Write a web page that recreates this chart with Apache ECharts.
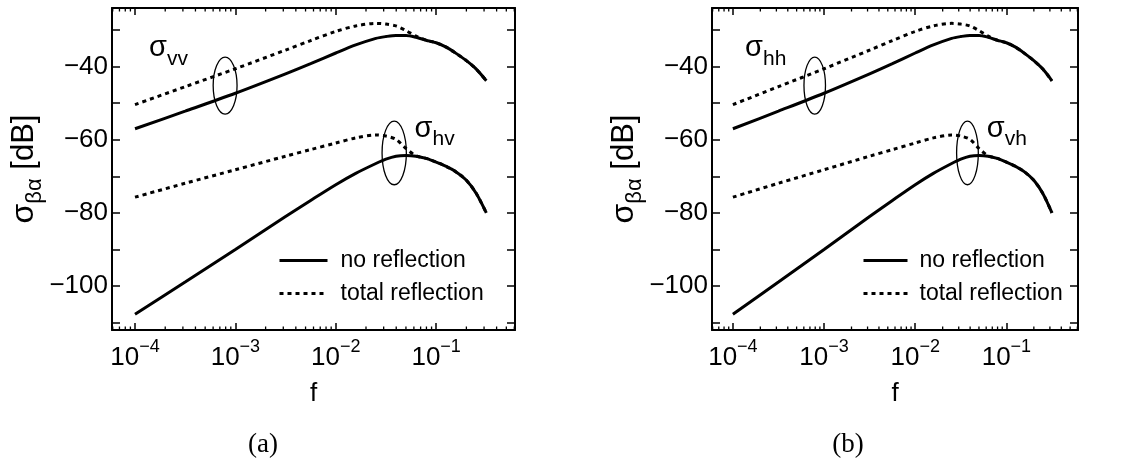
<!DOCTYPE html>
<html>
<head>
<meta charset="utf-8">
<script src="https://cdn.jsdelivr.net/npm/echarts@6/dist/echarts.min.js"></script>
<style>
  html, body { margin: 0; padding: 0; background: #fff; }
  #chart { width: 1136px; height: 464px; }
</style>
</head>
<body>
<div id="chart"></div>
<script>
// frequency samples (f)
const FREQ = [1e-4, 3.16e-4, 1e-3, 3.16e-3, 5.62e-3, 1e-2, 1.58e-2, 2.51e-2, 3.16e-2, 3.98e-2,
  5.01e-2, 6.31e-2, 7.94e-2, 0.1, 0.126, 0.158, 0.2, 0.251, 0.316];

// co-polarised (vv / hh) [dB]
const CO_NO_REF = [-57.0, -52.2, -47.3, -42.0, -39.2, -36.3, -34.1, -32.3, -31.8, -31.5,
  -31.5, -32.0, -32.8, -33.5, -34.7, -36.4, -38.4, -40.7, -43.9];
const CO_TOT_REF = [-50.4, -45.5, -40.6, -35.5, -32.9, -30.4, -28.9, -28.2, -28.4, -28.9,
  -30.2, -31.7, -32.8, -33.5, -34.7, -36.4, -38.4, -40.7, -43.9];

// cross-polarised (hv / vh) [dB]
const CROSS_NO_REF = [-107.7, -98.9, -90.0, -81.0, -76.6, -72.3, -69.2, -66.5, -65.3, -64.5,
  -64.3, -64.5, -65.1, -66.1, -67.3, -68.8, -71.1, -74.7, -80.0];
const CROSS_TOT_REF = [-75.7, -71.9, -68.2, -64.5, -62.7, -60.9, -59.5, -58.7, -59.0, -59.9,
  -62.4, -64.4, -65.1, -66.1, -67.3, -68.8, -71.1, -74.7, -80.0];

// minor ticks of the log axis
const X_MINOR = [6e-5, 7e-5, 8e-5, 9e-5,
  2e-4, 3e-4, 4e-4, 5e-4, 6e-4, 7e-4, 8e-4, 9e-4,
  2e-3, 3e-3, 4e-3, 5e-3, 6e-3, 7e-3, 8e-3, 9e-3,
  2e-2, 3e-2, 4e-2, 5e-2, 6e-2, 7e-2, 8e-2, 9e-2,
  2e-1, 3e-1, 4e-1, 5e-1, 6e-1];

const X_MIN = 5.9e-5, X_MAX = 0.61;
const Y_MIN = -112, Y_MAX = -24;

// ellipses: [f centre, dB centre, half width (decades), half height (dB)]
const ELLIPSES_A = [[7.9e-4, -45.2, 0.119, 7.8], [0.0382, -63.6, 0.121, 8.7]];
const ELLIPSES_B = [[7.9e-4, -45.2, 0.118, 7.8], [0.0374, -63.6, 0.119, 8.7]];

// sigma labels: [f, dB (top of text), subscript]
const LABELS_A = [[1.38e-4, -31.0, 'vv'], [0.061, -53.0, 'hv']];
const LABELS_B = [[1.36e-4, -31.0, 'hh'], [0.061, -53.0, 'vh']];

const FONT = 'Liberation Sans';
const MINUS = '\u2212';

const panels = [
  { left: 112, width: 403, ellipses: ELLIPSES_A, labels: LABELS_A, legendLeft: 273, legendW: 48, legendPad: 8, caption: '(a)', capX: 263 },
  { left: 712, width: 366, ellipses: ELLIPSES_B, labels: LABELS_B, legendLeft: 857, legendW: 44, legendPad: 7, caption: '(b)', capX: 848 }
];

function pairs(ys) {
  return FREQ.map((f, i) => [f, ys[i]]);
}

function xLabel(v) {
  const l = Math.log10(v);
  const n = Math.round(l);
  if (Math.abs(l - n) > 1e-6) return '';
  return '{b|10}{e|' + (n < 0 ? MINUS : '') + Math.abs(n) + '}';
}

const grid = [], xAxis = [], yAxis = [], series = [], legend = [], graphic = [];

panels.forEach((p, k) => {
  grid.push({ left: p.left, top: 8, width: p.width, height: 322 });

  const axisLine = { show: true, onZero: false, lineStyle: { color: '#000', width: 2 } };

  // bottom and top x axes
  xAxis.push({
    type: 'log', gridIndex: k, position: 'bottom', min: X_MIN, max: X_MAX, logBase: 10,
    axisLine, splitLine: { show: false },
    axisTick: { inside: true, length: 7, lineStyle: { color: '#000', width: 1.5 } },
    axisLabel: {
      formatter: xLabel, showMinLabel: false, showMaxLabel: false, margin: 8,
      rich: {
        b: { fontSize: 26, lineHeight: 33, fontFamily: FONT, color: '#000', verticalAlign: 'bottom' },
        e: { fontSize: 18, lineHeight: 18, fontFamily: FONT, color: '#000', verticalAlign: 'top' }
      }
    },
    name: 'f', nameLocation: 'middle', nameGap: 51,
    nameTextStyle: { fontSize: 26, fontFamily: FONT, color: '#000' }
  });
  xAxis.push({
    type: 'log', gridIndex: k, position: 'top', min: X_MIN, max: X_MAX, logBase: 10,
    axisLine, splitLine: { show: false },
    axisTick: { inside: true, length: 7, lineStyle: { color: '#000', width: 1.5 } },
    axisLabel: { show: false }
  });

  // left and right y axes
  const yBase = {
    type: 'value', gridIndex: k, min: Y_MIN, max: Y_MAX, splitNumber: 9,
    axisLine, splitLine: { show: false },
    axisTick: { inside: true, length: 8, lineStyle: { color: '#000', width: 1.5 } }
  };
  yAxis.push(Object.assign({}, yBase, {
    position: 'left',
    axisLabel: {
      margin: 4, fontSize: 26, fontFamily: FONT, color: '#000',
      showMinLabel: false, showMaxLabel: false,
      formatter: v => (v % 20 === 0 ? MINUS + Math.abs(v) : '')
    },
    name: '{s|σ}{sub|βα}{t| [dB]}', nameLocation: 'middle', nameRotate: 90, nameGap: 64,
    nameTextStyle: {
      color: '#000',
      rich: {
        s: { fontSize: 32, lineHeight: 31, fontFamily: FONT, color: '#000', verticalAlign: 'top' },
        sub: { fontSize: 22, lineHeight: 37, fontFamily: FONT, color: '#000', verticalAlign: 'bottom' },
        t: { fontSize: 31, lineHeight: 31, fontFamily: FONT, color: '#000', verticalAlign: 'top' }
      }
    }
  }));
  yAxis.push(Object.assign({}, yBase, { position: 'right', axisLabel: { show: false } }));

  const xi = 2 * k, yi = 2 * k;
  const solid = { color: '#000', width: 3, type: 'solid' };
  const dotted = { color: '#000', width: 3, type: [4, 4], cap: 'butt' };
  const line = (name, ys, style) => ({
    type: 'line', name, xAxisIndex: xi, yAxisIndex: yi, data: pairs(ys),
    symbol: 'none', smooth: 0.3, lineStyle: style, itemStyle: { color: '#000' }
  });
  series.push(line('no reflection', CO_NO_REF, solid));
  series.push(line('total reflection', CO_TOT_REF, dotted));
  series.push(line('no reflection', CROSS_NO_REF, solid));
  series.push(line('total reflection', CROSS_TOT_REF, dotted));

  // minor ticks of the log axis, top and bottom
  series.push({
    type: 'custom', name: 'minor', xAxisIndex: xi, yAxisIndex: yi, silent: true,
    data: X_MINOR.map(f => [f, Y_MIN]),
    renderItem: (params, api) => {
      const b = api.coord([api.value(0), Y_MIN]);
      const t = api.coord([api.value(0), Y_MAX]);
      const st = { stroke: '#000', lineWidth: 1.3 };
      return {
        type: 'group', children: [
          { type: 'line', shape: { x1: b[0], y1: b[1], x2: b[0], y2: b[1] - 3.5 }, style: st },
          { type: 'line', shape: { x1: t[0], y1: t[1], x2: t[0], y2: t[1] + 3.5 }, style: st }
        ]
      };
    }
  });

  // ellipses round the curve pairs
  series.push({
    type: 'custom', name: 'ellipse', xAxisIndex: xi, yAxisIndex: yi, silent: true,
    data: p.ellipses,
    renderItem: (params, api) => {
      const e = p.ellipses[params.dataIndex];
      const c = api.coord([e[0], e[1]]);
      const r = api.coord([e[0] * Math.pow(10, e[2]), e[1] + e[3]]);
      return {
        type: 'ellipse',
        shape: { cx: c[0], cy: c[1], rx: r[0] - c[0], ry: c[1] - r[1] },
        style: { fill: 'none', stroke: '#000', lineWidth: 1.3 }
      };
    }
  });

  // sigma labels
  series.push({
    type: 'custom', name: 'sigma', xAxisIndex: xi, yAxisIndex: yi, silent: true,
    data: p.labels.map(l => [l[0], l[1]]),
    renderItem: (params, api) => {
      const l = p.labels[params.dataIndex];
      const c = api.coord([l[0], l[1]]);
      return {
        type: 'text', x: c[0], y: c[1],
        style: {
          text: '{s|σ}{sub|' + l[2] + '}', fill: '#000', align: 'left', verticalAlign: 'top',
          rich: {
            s: { fontSize: 29, lineHeight: 29, fontFamily: FONT, fill: '#000', verticalAlign: 'top' },
            sub: { fontSize: 21, lineHeight: 36, fontFamily: FONT, fill: '#000', verticalAlign: 'bottom' }
          }
        }
      };
    }
  });

  legend.push({
    data: ['no reflection', 'total reflection'],
    orient: 'vertical', left: p.legendLeft, top: 244, itemGap: 10,
    itemWidth: p.legendW, itemHeight: 14, selectedMode: false,
    itemStyle: { opacity: 0 },
    lineStyle: { width: 3 },
    textStyle: { fontSize: 23, fontFamily: FONT, color: '#000', padding: [0, 0, 0, p.legendPad] }
  });

  graphic.push({
    type: 'text', x: p.capX, y: 445,
    style: { text: p.caption, fontSize: 27, fontFamily: 'Liberation Serif', fill: '#000', align: 'center', verticalAlign: 'middle' }
  });
});

const chart = echarts.init(document.getElementById('chart'), null, { renderer: 'canvas' });
chart.setOption({
  animation: false,
  backgroundColor: '#fff',
  grid, xAxis, yAxis, series, legend, graphic
});
</script>
</body>
</html>
